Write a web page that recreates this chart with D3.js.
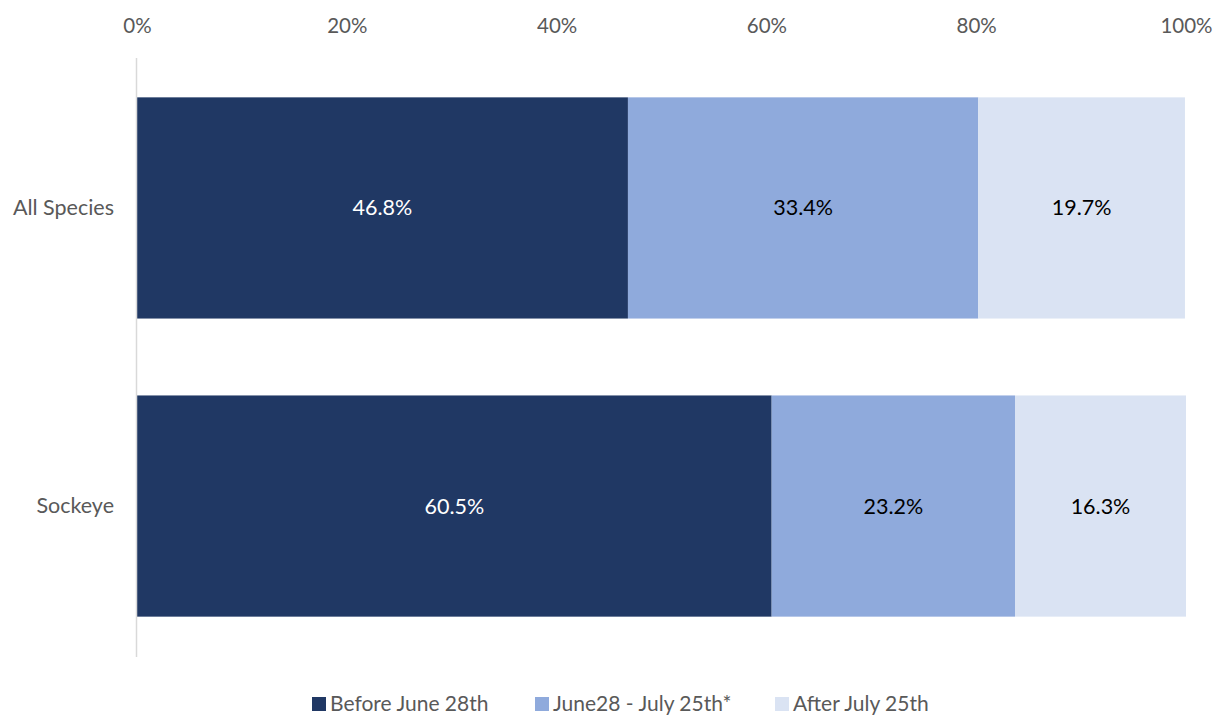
<!DOCTYPE html>
<html><head><meta charset="utf-8">
<script src="https://cdn.jsdelivr.net/npm/d3@7"></script>
<style>body{margin:0;background:#fff;} svg{display:block;font-family:Lato, "Open Sans", sans-serif;}</style>
</head><body>
<svg id="c" width="1215" height="717"></svg>
<script>
const categories = ["All Species", "Sockeye"];
const seriesNames = ["Before June 28th", "June28 - July 25th*", "After July 25th"];
const beforeJune28 = [46.8, 60.5];
const june28ToJuly25 = [33.4, 23.2];
const afterJuly25 = [19.7, 16.3];
const tickValues = [0, 20, 40, 60, 80, 100];
const colors = ["#203864", "#8faadc", "#dae3f3"];
const labelColors = ["#ffffff", "#000000", "#000000"];

const rows = categories.map((c, i) => ({cat: c, v: [beforeJune28[i], june28ToJuly25[i], afterJuly25[i]]}));
const svg = d3.select("#c");
const x = d3.scaleLinear().domain([0, 100]).range([137, 1186]);
const y = d3.scaleBand().domain(categories).range([58, 656]).paddingInner(0.258).paddingOuter(0.132);

// top axis labels
const ax = svg.append("g").attr("transform", "translate(0,26)")
  .call(d3.axisTop(x).tickValues(tickValues).tickFormat(d => d + "%").tickSize(0).tickPadding(0));
ax.select(".domain").remove();
ax.selectAll("text").attr("font-size", 20.5).attr("fill", "#595959").attr("font-family", "Lato, 'Open Sans', sans-serif").attr("dy", "0.35em");

// bars
rows.forEach(r => {
  let cum = 0;
  r.v.forEach((v, k) => {
    const x0 = cum, x1 = cum + v; cum = x1;
    svg.append("rect").attr("x", x(x0)).attr("y", y(r.cat))
      .attr("width", Math.min(x(x1), x(100)) - x(x0)).attr("height", y.bandwidth()).attr("fill", colors[k]);
    svg.append("text").attr("x", (x(x0) + Math.min(x(x1), x(100))) / 2).attr("y", y(r.cat) + y.bandwidth() / 2)
      .attr("dy", "0.35em").attr("text-anchor", "middle").attr("font-size", 21.5).attr("fill", labelColors[k])
      .text(v.toFixed(1) + "%");
  });
});

// vertical axis line
svg.append("line").attr("x1", 136.5).attr("x2", 136.5).attr("y1", 58).attr("y2", 657).attr("stroke", "#d9d9d9").attr("stroke-width", 1.5);

// category labels
const ay = svg.append("g").attr("transform", "translate(114,0)")
  .call(d3.axisLeft(y).tickSize(0).tickPadding(0));
ay.select(".domain").remove();
ay.selectAll("text").attr("font-size", 21.5).attr("fill", "#595959").attr("font-family", "Lato, 'Open Sans', sans-serif");

// legend
const legX = [312, 535, 775];
const leg = svg.append("g");
seriesNames.forEach((s, k) => {
  leg.append("rect").attr("x", legX[k]).attr("y", 697).attr("width", 14).attr("height", 14).attr("fill", colors[k]);
  leg.append("text").attr("x", legX[k] + 18).attr("y", 704).attr("dy", "0.35em").attr("font-size", 21).attr("fill", "#595959").text(s);
});
</script>
</body></html>
